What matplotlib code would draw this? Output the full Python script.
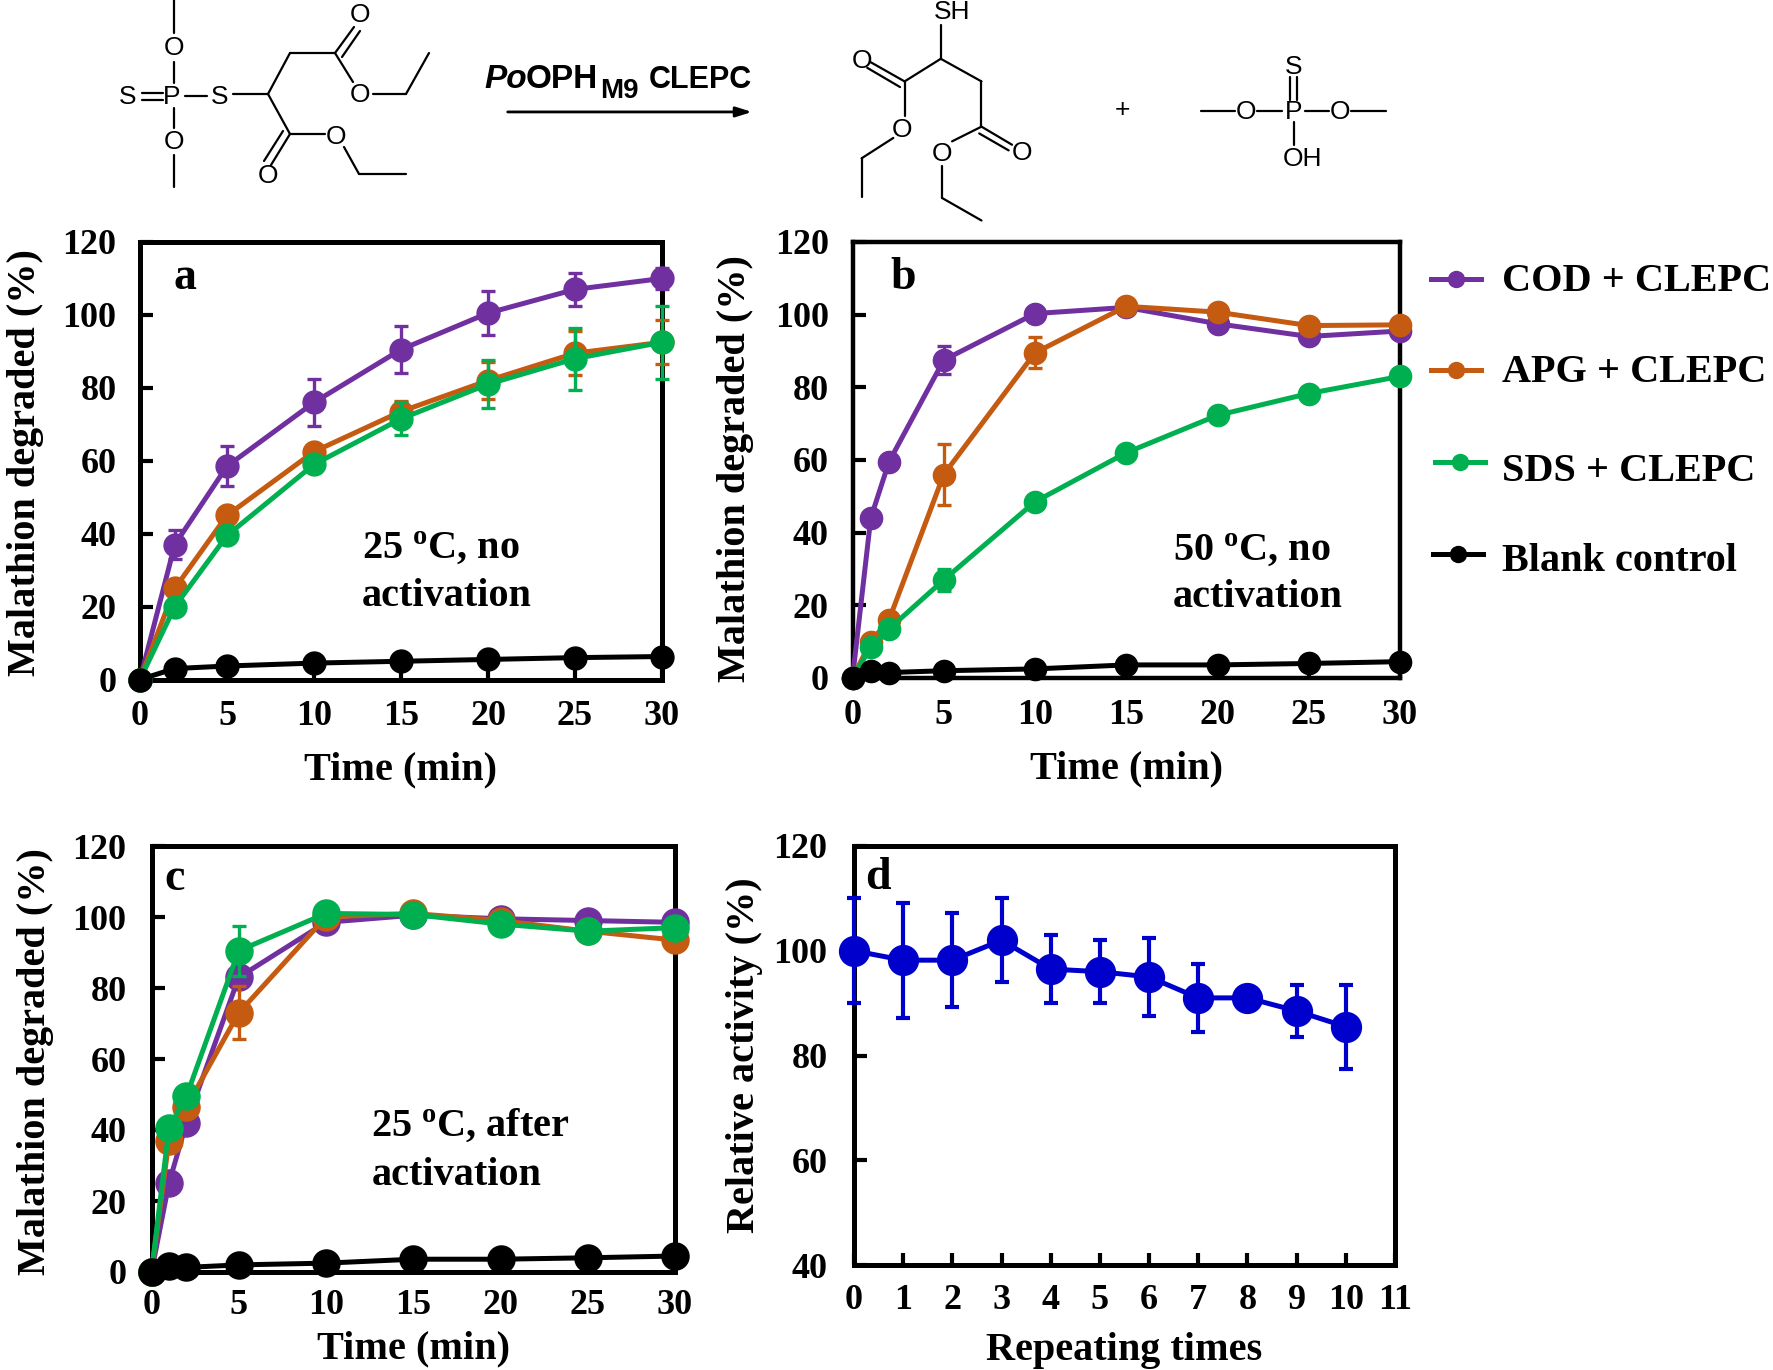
import matplotlib
matplotlib.use("Agg")
import matplotlib.pyplot as plt
from matplotlib.lines import Line2D

plt.rcParams.update({
    'font.family': ['Liberation Serif', 'DejaVu Serif'], 'font.weight': 'bold',
    'mathtext.fontset': 'custom', 'mathtext.bf': 'Liberation Serif:bold',
    'mathtext.rm': 'Liberation Serif:bold', 'mathtext.default': 'bf',
})

W, H = 1773, 1370
S = 1773 / 1568

PURPLE, ORANGE, GREEN, BLACK, BLUE = '#7030A0', '#C55A11', '#00B050', '#000000', '#0000CC'
SERIES_NAMES = ['COD + CLEPC', 'APG + CLEPC', 'SDS + CLEPC', 'Blank control']
SERIES_COLORS = [PURPLE, ORANGE, GREEN, BLACK]

# Panel a
t_a = [0, 2, 5, 10, 15, 20, 25, 30]
cod_a = [0, 37, 58.5, 76, 90.5, 100.5, 107, 110]
cod_a_err = [0, 4, 5.5, 6.5, 6.5, 6, 4.5, 3]
apg_a = [0, 25, 45, 62.5, 73.5, 82, 89.5, 92.5]
apg_a_err = [0, 1, 1, 1, 3, 5, 6, 6]
sds_a = [0, 20, 39.5, 59, 71.5, 81, 88, 92.5]
sds_a_err = [0, 1, 1, 2, 4.5, 6.5, 8.5, 10]
blank_a = [0, 3, 3.7, 4.5, 5, 5.5, 6, 6.3]
blank_a_err = [0, 0.5, 0.5, 1, 1.5, 2, 2, 1]

# Panel b
t_b = [0, 1, 2, 5, 10, 15, 20, 25, 30]
cod_b = [0, 44, 59.5, 87.5, 100.3, 102, 97.5, 94, 95.5]
cod_b_err = [0, 0, 0, 3.8, 0, 0, 0, 0, 0]
apg_b = [0, 10, 16, 56, 89.5, 102.3, 100.7, 97, 97.2]
apg_b_err = [0, 0, 0, 8.5, 4.3, 0, 0, 0, 0]
sds_b = [0, 8.5, 13.5, 27, 48.5, 62, 72.3, 78.3, 83]
sds_b_err = [0, 0, 0, 3, 0, 0, 0, 0, 0]
blank_b = [0, 2, 1.5, 2, 2.5, 3.6, 3.6, 4, 4.5]

# Panel c
t_c = [0, 1, 2, 5, 10, 15, 20, 25, 30]
cod_c = [0, 25, 42, 83, 98.5, 100.5, 99.5, 99, 98.5]
apg_c = [0, 37, 46.5, 73, 100, 101, 99, 96, 93.5]
apg_c_err = [0, 0, 0, 7.5, 0, 0, 0, 0, 0]
sds_c = [0, 40.5, 49.5, 90.5, 101, 100.7, 98, 96, 97]
sds_c_err = [0, 0, 0, 7, 0, 0, 0, 0, 0]
blank_c = [0, 1.8, 1.3, 2, 2.5, 3.6, 3.6, 4, 4.5]

# Panel d
cycles = [0, 1, 2, 3, 4, 5, 6, 7, 8, 9, 10]
activity = [100, 98.2, 98.2, 102, 96.5, 96, 95, 91, 91, 88.5, 85.5]
activity_err = [10, 11, 9, 8, 6.5, 6, 7.5, 6.5, 1.5, 5, 8]

time_ticks = [0, 5, 10, 15, 20, 25, 30]
pct_ticks = [0, 20, 40, 60, 80, 100, 120]

fig = plt.figure(figsize=(W / 100, H / 100), dpi=100)
FS = 26
LFS = 29
NOTE = 29
PANEL = 33


def axes_px(x0, y0, x1, y1):
    return fig.add_axes([x0 / W, 1 - y1 / H, (x1 - x0) / W, (y1 - y0) / H])


def style(ax, xlim, ylim, xticks, yticks, xlabel, ylabel, lw, ypad, xpad, ylab, xlab_y):
    ax.set_xlim(*xlim)
    ax.set_ylim(*ylim)
    ax.set_xticks(xticks)
    ax.set_yticks(yticks)
    ax.tick_params(axis='x', direction='in', length=9, width=3, pad=xpad, labelsize=FS)
    ax.tick_params(axis='y', direction='in', length=9, width=3, pad=ypad, labelsize=FS)
    for s in ax.spines.values():
        s.set_linewidth(lw)
    ax.set_xlabel(xlabel, fontsize=LFS, fontweight='bold')
    ax.set_ylabel(ylabel, fontsize=LFS, fontweight='bold')
    ax.yaxis.set_label_coords(*ylab)
    ax.xaxis.set_label_coords(0.5, xlab_y)


def series(ax, x, y, err, color, ms, lw, z, ew=2.4):
    if err is None:
        err = [0] * len(y)
    xe = [a for a, e in zip(x, err) if e > 0]
    ye = [a for a, e in zip(y, err) if e > 0]
    ee = [e for e in err if e > 0]
    if ee:
        ax.errorbar(xe, ye, yerr=ee, fmt='none', ecolor=color, elinewidth=ew,
                    capsize=5, capthick=ew, zorder=z, clip_on=False)
    ax.plot(x, y, '-o', color=color, ms=ms, lw=lw, zorder=z + 0.5, clip_on=False)


# a
ax = axes_px(140, 242, 662, 679.5)
style(ax, (0, 30), (0, 120), time_ticks, pct_ticks, 'Time (min)', 'Malathion degraded (%)',
      3.6, 17, 15, (-0.183, 0.495), -0.165)
for i, (y, e, c) in enumerate(zip([cod_a, apg_a, sds_a, blank_a],
                                  [cod_a_err, apg_a_err, sds_a_err, blank_a_err], SERIES_COLORS)):
    series(ax, t_a, y, e, c, 16.5, 3.6, 5 + i)
ax.text(0.065, 0.893, 'a', transform=ax.transAxes, fontsize=PANEL, va='baseline')
ax.text(0.425, 0.277, '25 $^{o}$C, no', transform=ax.transAxes, fontsize=NOTE, va='baseline')
ax.text(0.425, 0.167, 'activation', transform=ax.transAxes, fontsize=NOTE, va='baseline')

# b
ax = axes_px(852.5, 242, 1400, 678)
style(ax, (0, 30), (0, 120), time_ticks, pct_ticks, 'Time (min)', 'Malathion degraded (%)',
      3.2, 17, 15, (-0.179, 0.48), -0.165)
for i, (y, e, c) in enumerate(zip([cod_b, apg_b, sds_b, blank_b],
                                  [cod_b_err, apg_b_err, sds_b_err, None], SERIES_COLORS)):
    series(ax, t_b, y, e, c, 16, 3.6, 5 + i)
ax.text(0.07, 0.893, 'b', transform=ax.transAxes, fontsize=PANEL, va='baseline')
ax.text(0.585, 0.272, '50 $^{o}$C, no', transform=ax.transAxes, fontsize=NOTE, va='baseline')
ax.text(0.585, 0.162, 'activation', transform=ax.transAxes, fontsize=NOTE, va='baseline')

# c
ax = axes_px(151.5, 846, 675, 1272)
style(ax, (0, 30), (0, 120), time_ticks, pct_ticks, 'Time (min)', 'Malathion degraded (%)',
      3.6, 18, 12, (-0.187, 0.495), -0.136)
for i, (y, e, c) in enumerate(zip([cod_c, apg_c, sds_c, blank_c],
                                  [None, apg_c_err, sds_c_err, None], SERIES_COLORS)):
    series(ax, t_c, y, e, c, 19.5, 3.6, 5 + i)
ax.text(0.025, 0.897, 'c', transform=ax.transAxes, fontsize=PANEL, va='baseline')
ax.text(0.42, 0.32, '25 $^{o}$C, after', transform=ax.transAxes, fontsize=NOTE, va='baseline')
ax.text(0.42, 0.205, 'activation', transform=ax.transAxes, fontsize=NOTE, va='baseline')

# d
ax = axes_px(854, 846, 1395, 1265)
style(ax, (0, 11), (40, 120), cycles + [11], [40, 60, 80, 100, 120], 'Repeating times', 'Relative activity (%)',
      3.6, 19, 14, (-0.168, 0.5), -0.16)
series(ax, cycles, activity, activity_err, BLUE, 21.5, 3.6, 5, ew=3)
ax.text(0.02, 0.897, 'd', transform=ax.transAxes, fontsize=PANEL, va='baseline')

# Overlay in full-size pixels: legend and reaction scheme
ov = fig.add_axes([0, 0, 1, 1], zorder=20)
ov.set_xlim(0, W)
ov.set_ylim(H, 0)
ov.axis('off')

legend_y = [247, 327, 409, 490]
legend_x0 = [1431, 1431, 1435, 1433]
legend_ty = [249, 329, 417, 497]
for name, c, ly, lx, ty in zip(SERIES_NAMES, SERIES_COLORS, legend_y, legend_x0, legend_ty):
    ov.add_line(Line2D([lx, lx + 50], [ly * S] * 2, color=c, lw=3.6))
    ov.add_line(Line2D([lx + 25], [ly * S], marker='o', ms=11.5, color=c))
    ov.text(1328 * S, ty * S, name, fontsize=LFS, va='center', ha='left')


def bonds(pairs, scale=1.0):
    for (x0, y0), (x1, y1) in pairs:
        ov.add_line(Line2D([x0 * scale, x1 * scale], [y0 * scale, y1 * scale], color='k', lw=1.6,
                           solid_capstyle='round'))


def atoms(items, scale=1.0):
    for x, y, s in items:
        ov.text(x * scale, y * scale, s, fontsize=19, family='Liberation Sans', fontweight='normal',
                ha='center', va='center')


# substrate
bonds([((174, 0), (174, 33)), ((174, 62), (174, 83)), ((174, 108), (174, 128)), ((174, 155), (174, 187)),
       ((142, 93), (163, 93)), ((142, 100), (163, 100)), ((185, 96), (207, 96)), ((233, 94), (268, 94)),
       ((268, 94), (290, 53)), ((290, 53), (335, 53)), ((335, 53), (354, 27)), ((342, 57), (360, 31)),
       ((335, 53), (353, 82)), ((373, 94), (406, 94)), ((406, 94), (429, 53)),
       ((268, 94), (290, 134)), ((290, 134), (325, 134)), ((344, 147), (359, 174)), ((359, 174), (406, 174)),
       ((290, 134), (271, 165)), ((283, 131), (264, 161))])
atoms([(128, 97, 'S'), (172, 97, 'P'), (220, 97, 'S'), (174, 48, 'O'), (174, 142, 'O'),
       (360, 15, 'O'), (360, 95, 'O'), (336, 137, 'O'), (268, 176, 'O')])

# products
bonds([((832, 22), (832, 52)), ((800, 72), (832, 52)), ((832, 52), (868, 72)), ((868, 72), (868, 112)),
       ((800, 72), (770, 55)), ((796, 77), (767, 60)),
       ((868, 112), (895, 128)), ((866, 118), (892, 133)), ((868, 112), (842, 125)),
       ((833, 147), (833, 175)), ((833, 175), (868, 195)), ((800, 72), (800, 103)),
       ((790, 122), (762, 140)), ((762, 140), (762, 174)),
       ((1062, 98), (1092, 98)), ((1112, 98), (1134, 98)), ((1154, 98), (1175, 98)), ((1195, 98), (1226, 98)),
       ((1141, 68), (1141, 88)), ((1147, 68), (1147, 88)), ((1144, 108), (1144, 128))], S)
atoms([(842, 11, 'SH'), (762, 54, 'O'), (904, 135, 'O'), (833, 136, 'O'), (798, 115, 'O'),
       (993, 97, '+'), (1102, 99, 'O'), (1144, 99, 'P'), (1185, 99, 'O'), (1144, 59, 'S'), (1152, 141, 'OH')], S)

# arrow and enzyme label
ov.annotate('', xy=(665 * S, 99 * S), xytext=(449 * S, 99 * S),
            arrowprops=dict(arrowstyle='-|>,head_width=0.3,head_length=0.95', color='k', lw=2,
                            shrinkA=0, shrinkB=0))
sans = dict(family='Liberation Sans', fontweight='bold', va='baseline', ha='left')
ov.text(428 * S, 78 * S, 'Po', fontsize=24, style='italic', **sans)
ov.text(465 * S, 78 * S, 'OPH', fontsize=24, **sans)
ov.text(531 * S, 87 * S, 'M9', fontsize=20, **sans)
ov.text(574 * S, 78 * S, 'CLEPC', fontsize=22, **sans)

fig.savefig('out.png', dpi=100)
